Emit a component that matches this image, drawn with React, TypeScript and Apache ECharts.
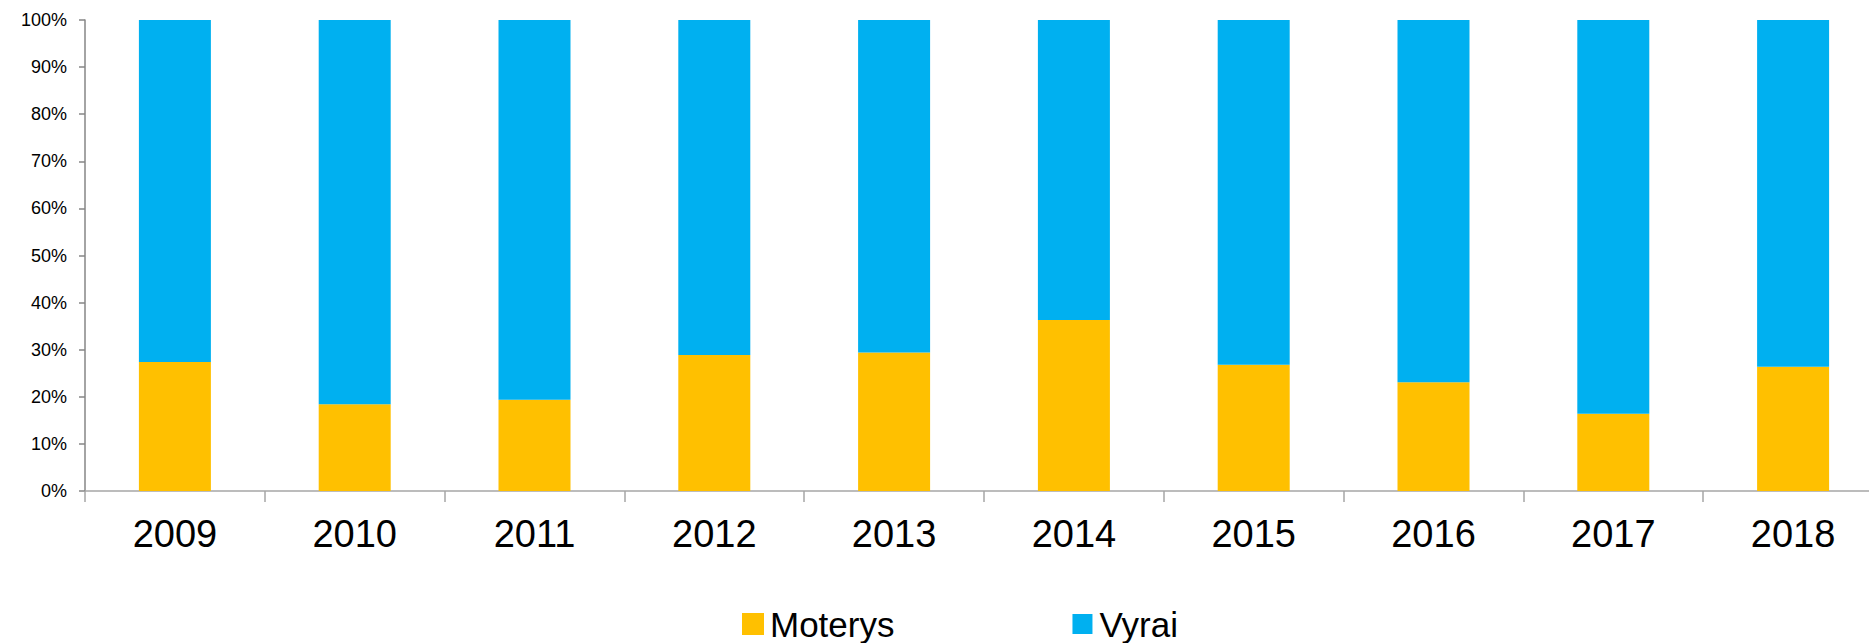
import React, { useEffect, useRef } from "react";
import * as echarts from "echarts";

const categories = ["2009", "2010", "2011", "2012", "2013", "2014", "2015", "2016", "2017", "2018"];
const moterys = [27.4, 18.4, 19.4, 28.9, 29.4, 36.3, 26.8, 23.1, 16.4, 26.4];
const vyrai = [72.6, 81.6, 80.6, 71.1, 70.6, 63.7, 73.2, 76.9, 83.6, 73.6];
const yTicks = [0, 10, 20, 30, 40, 50, 60, 70, 80, 90, 100];

const FONT = "'Liberation Sans', Arial, sans-serif";

export default function App() {
  const ref = useRef<HTMLDivElement>(null);
  useEffect(() => {
    if (!ref.current) return;
    const chart = echarts.init(ref.current, undefined, { renderer: "svg" });
    chart.setOption({
      animation: false,
      backgroundColor: "#ffffff",
      grid: { left: 85, top: 20, width: 1798, height: 471, containLabel: false },
      legend: {
        left: 737,
        top: 601,
        itemWidth: 20,
        itemHeight: 20,
        itemGap: 178,
        icon: "rect",
        textStyle: { fontFamily: FONT, fontSize: 35, lineHeight: 36, color: "#000", padding: [0, 0, 0, 2] },
        data: ["Moterys", "Vyrai"],
      },
      xAxis: {
        type: "category",
        data: categories,
        boundaryGap: true,
        axisLine: { lineStyle: { color: "#a6a6a6", width: 1.5 } },
        axisTick: { show: true, length: 11, alignWithLabel: false, lineStyle: { color: "#a6a6a6", width: 1.5 } },
        axisLabel: { fontFamily: FONT, fontSize: 38, color: "#000", margin: 24 },
        splitLine: { show: false },
      },
      yAxis: {
        type: "value",
        min: yTicks[0],
        max: yTicks[yTicks.length - 1],
        interval: 10,
        axisLine: { show: true, lineStyle: { color: "#868686", width: 1.5 } },
        axisTick: { show: true, length: 6, inside: false, lineStyle: { color: "#868686", width: 1.5 } },
        axisLabel: { fontFamily: FONT, fontSize: 18, color: "#000", margin: 18, formatter: "{value}%" },
        splitLine: { show: false },
      },
      series: [
        {
          name: "Moterys",
          type: "bar",
          stack: "total",
          barWidth: 72,
          data: moterys,
          itemStyle: { color: "#FFC000", borderColor: "#FFC000", borderWidth: 3 },
        },
        {
          name: "Vyrai",
          type: "bar",
          stack: "total",
          barWidth: 72,
          data: vyrai,
          itemStyle: { color: "#00B0F0" },
        },
      ],
    });
    return () => chart.dispose();
  }, []);
  return (
    <div style={{ position: "absolute", left: 0, top: 0, width: 1869, height: 643, overflow: "hidden", background: "#fff" }}>
      <div ref={ref} style={{ position: "absolute", left: 0, top: 0, width: 1900, height: 643 }} />
    </div>
  );
}
